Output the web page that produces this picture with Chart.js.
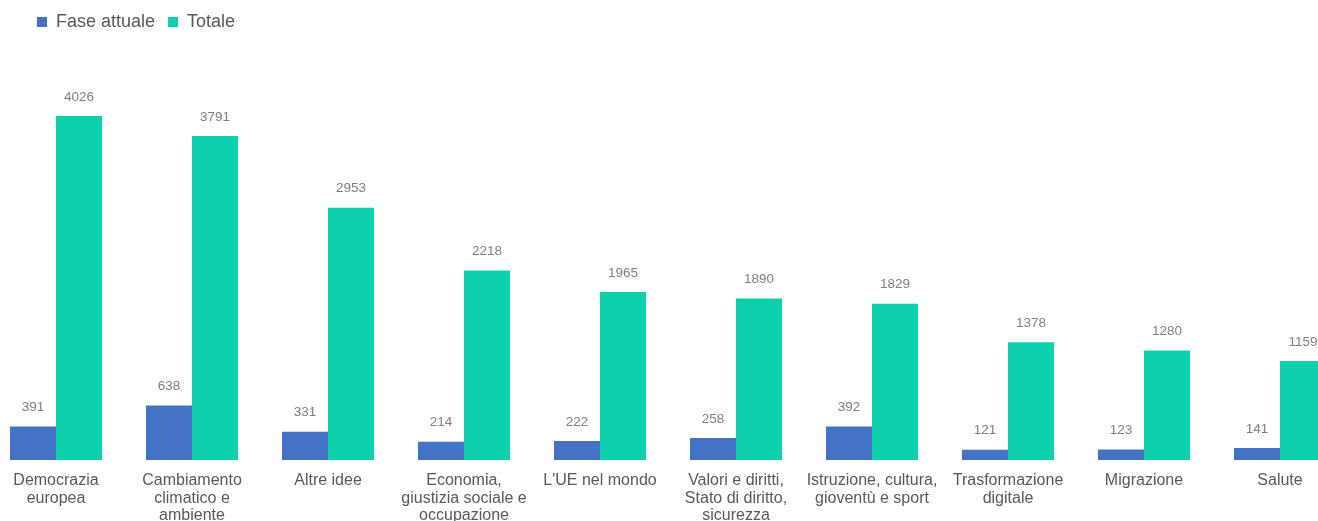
<!DOCTYPE html>
<html lang="it">
<head>
  <meta charset="UTF-8">
  <title>Fase attuale e Totale per tema</title>
  <script src="https://cdn.jsdelivr.net/npm/chart.js"></script>
  <style>
    html, body { margin: 0; padding: 0; overflow: hidden; background: #fff; }
    /* the plot runs a little past both window edges, like the original */
    #wrap { position: absolute; left: -12px; top: 0; width: 1360px; height: 521px; }
  </style>
</head>
<body>
  <div id="wrap"><canvas id="chart"></canvas></div>

  <script>
    const categories = [
      ['Democrazia', 'europea'],
      ['Cambiamento', 'climatico e', 'ambiente'],
      'Altre idee',
      ['Economia,', 'giustizia sociale e', 'occupazione'],
      "L'UE nel mondo",
      ['Valori e diritti,', 'Stato di diritto,', 'sicurezza'],
      ['Istruzione, cultura,', 'gioventù e sport'],
      ['Trasformazione', 'digitale'],
      'Migrazione',
      'Salute'
    ];
    const faseAttuale = [391, 638, 331, 214, 222, 258, 392, 121, 123, 141];
    const totale = [4026, 3791, 2953, 2218, 1965, 1890, 1829, 1378, 1280, 1159];
    const seriesNames = ['Fase attuale', 'Totale'];

    const FONT = '"Liberation Sans", Arial, sans-serif';

    // value above every bar
    const valueLabels = {
      id: 'valueLabels',
      afterDatasetsDraw(chart) {
        const ctx = chart.ctx;
        ctx.save();
        ctx.font = '13.5px ' + FONT;
        ctx.fillStyle = '#7f7f7f';
        ctx.textAlign = 'center';
        ctx.textBaseline = 'middle';
        chart.data.datasets.forEach((ds, i) => {
          chart.getDatasetMeta(i).data.forEach((bar, j) => {
            ctx.fillText(String(ds.data[j]), bar.x, bar.y - 19);
          });
        });
        ctx.restore();
      }
    };

    // fixed legend band height, legend pushed right
    const legendPlace = {
      id: 'legendPlace',
      afterInit(chart) {
        const legend = chart.legend;
        const fit = legend.fit;
        legend.fit = function () {
          fit.call(this);
          this.height = 60;
        };
      },
      afterUpdate(chart) {
        chart.legend.left = 36;
      }
    };

    new Chart(document.getElementById('chart'), {
      type: 'bar',
      data: {
        labels: categories,
        datasets: [{
          label: seriesNames[0],
          data: faseAttuale,
          backgroundColor: '#4472c4',
          borderWidth: 0
        }, {
          label: seriesNames[1],
          data: totale,
          backgroundColor: '#0ecfac',
          borderWidth: 0
        }]
      },
      options: {
        responsive: true,
        maintainAspectRatio: false,
        animation: false,
        layout: { padding: 0 },
        datasets: {
          bar: { categoryPercentage: 0.6765, barPercentage: 1.0 }
        },
        scales: {
          x: {
            grid: { display: false },
            border: { display: false },
            ticks: {
              color: '#595959',
              padding: 4,
              maxRotation: 0,
              autoSkip: false,
              font: { family: FONT, size: 16, lineHeight: 1.1 }
            },
            afterFit(scale) { scale.height = 61; }
          },
          y: {
            display: false,
            min: 0,
            max: 4681
          }
        },
        plugins: {
          legend: {
            position: 'top',
            align: 'start',
            labels: {
              boxWidth: 10,
              boxHeight: 10,
              padding: 13,
              color: '#595959',
              font: { family: FONT, size: 18 }
            }
          },
          tooltip: { enabled: false }
        }
      },
      plugins: [valueLabels, legendPlace]
    });
  </script>
</body>
</html>
